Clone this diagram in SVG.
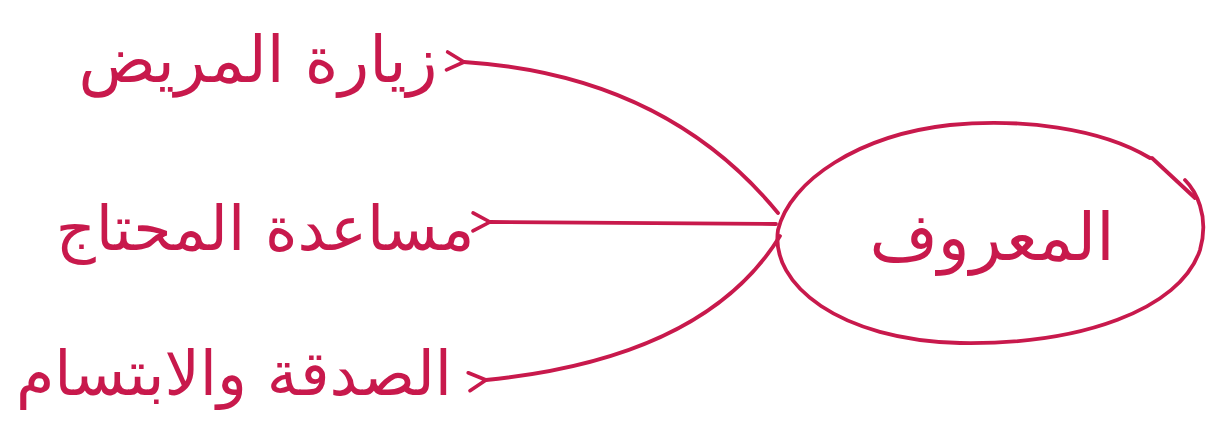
<svg xmlns="http://www.w3.org/2000/svg" width="1210" height="424" viewBox="0 0 1210 424">
<defs>
<style>
.ink{fill:none;stroke:#C8194C;stroke-width:3.8;stroke-linecap:round;stroke-linejoin:round}
.lbl{font-family:"DejaVu Sans",sans-serif;fill:#C8194C;text-anchor:middle;direction:rtl}
</style>
<marker id="ah" markerWidth="24" markerHeight="24" refX="3" refY="12" orient="auto" markerUnits="userSpaceOnUse" viewBox="0 0 24 24">
<path d="M20 3 L3 12 L20 21" fill="none" stroke="#C8194C" stroke-width="3.6" stroke-linecap="round" stroke-linejoin="round"/>
</marker>
</defs>
<rect width="1210" height="424" fill="#ffffff"/>
<g id="connectors">
<path class="ink" d="M778 213 Q665 75 464 62" marker-end="url(#ah)"/>
<path class="ink" d="M776 224 L490 222" marker-end="url(#ah)"/>
<path class="ink" d="M780 236 Q705 358 486 380" marker-end="url(#ah)"/>
</g>
<g id="node-main">
<path class="ink" d="M1150 158 C1100 128 1020 118 950 125 C860 135 790 180 778 230 C770 285 840 340 960 343 C1080 345 1180 310 1200 250 C1210 215 1195 190 1185 180"/>
<path class="ink" d="M1152 158 L1195 198"/>
<text class="lbl" x="992" y="260" font-size="66">المعروف</text>
</g>
<g id="node-visit">
<text class="lbl" x="258" y="82" font-size="64">زيارة المريض</text>
</g>
<g id="node-help">
<text class="lbl" x="265" y="250" font-size="62">مساعدة المحتاج</text>
</g>
<g id="node-charity">
<text class="lbl" x="234" y="395" font-size="62">الصدقة والابتسام</text>
</g>
</svg>
